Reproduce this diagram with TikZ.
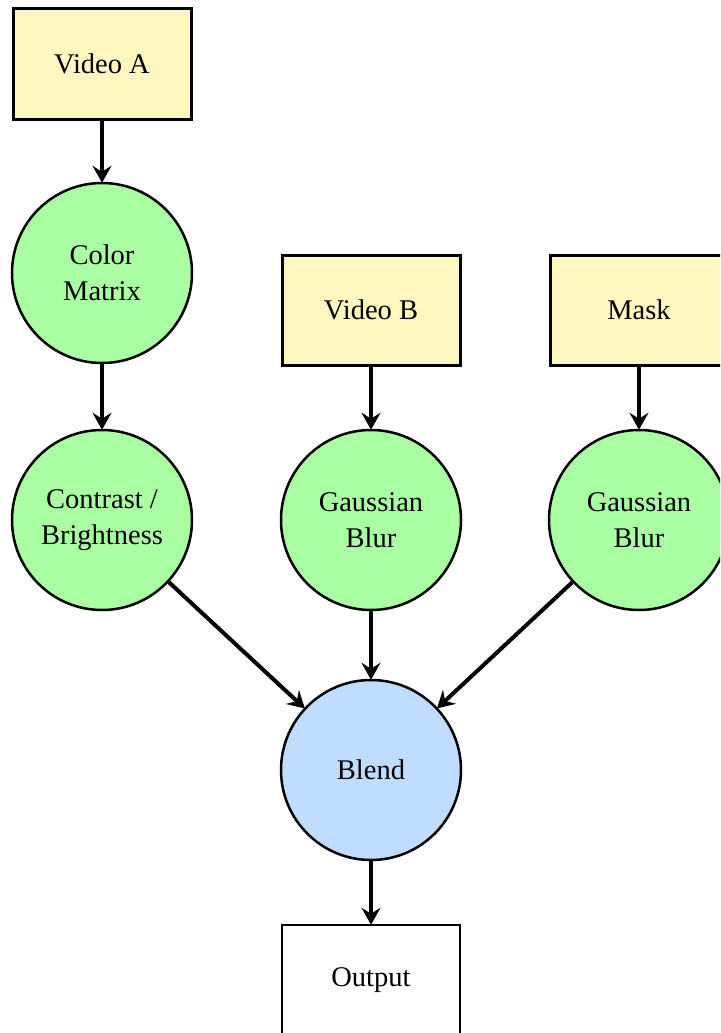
\documentclass[tikz,border=0pt]{standalone}
\usepackage{fontspec}
\setmainfont{Liberation Serif}
\usetikzlibrary{arrows.meta}
\definecolor{srcfill}{HTML}{FFF6C0}
\definecolor{opfill}{HTML}{AAFFA2}
\definecolor{mixfill}{HTML}{C0DCFF}
\tikzset{
  x=1pt, y=-1pt,
  every node/.style={font=\fontsize{28.5}{36}\selectfont, align=center, inner sep=0pt},
  srcbox/.style={draw=black, line width=3pt, fill=srcfill, minimum width=178pt, minimum height=110pt},
  outbox/.style={draw=black, line width=2.5pt, fill=white, minimum width=178pt, minimum height=110pt},
  opnode/.style={circle, draw=black, line width=2.5pt, fill=opfill, minimum size=180pt},
  mixnode/.style={circle, draw=black, line width=2.5pt, fill=mixfill, minimum size=180pt},
  flow/.style={line width=4pt, -{Stealth[length=17pt, width=19pt, inset=6pt]}, shorten >=-1pt}
}
\begin{document}
\begin{tikzpicture}
  \useasboundingbox (0,0) rectangle (720,1033);
  \clip (0,0) rectangle (720,1033);
  % sources
  \node[srcbox] (va) at (102,64) {\raisebox{-2pt}{Video A}};
  \node[srcbox] (vb) at (371,310) {\raisebox{-2pt}{Video B}};
  \node[srcbox] (mk) at (639,310) {\raisebox{-2pt}{Mask}};
  % processing
  \node[opnode] (cm) at (102,273) {Color\\Matrix};
  \node[opnode] (cb) at (102,520) {Contrast /\\Brightness};
  \node[opnode] (gb1) at (371,520) {Gaussian\\Blur};
  \node[opnode] (gb2) at (639,520) {Gaussian\\Blur};
  % mixing and output
  \node[mixnode] (bl) at (371,770) {\raisebox{-2pt}{Blend}};
  \node[outbox] (out) at (371,980) {\raisebox{-2pt}{Output}};
  % connectors
  \draw[flow] (va) -- (cm);
  \draw[flow] (cm) -- (cb);
  \draw[flow] (vb) -- (gb1);
  \draw[flow] (mk) -- (gb2);
  \draw[flow] (cb) -- (bl);
  \draw[flow] (gb1) -- (bl);
  \draw[flow] (gb2) -- (bl);
  \draw[flow] (bl) -- (out);
\end{tikzpicture}
\end{document}
